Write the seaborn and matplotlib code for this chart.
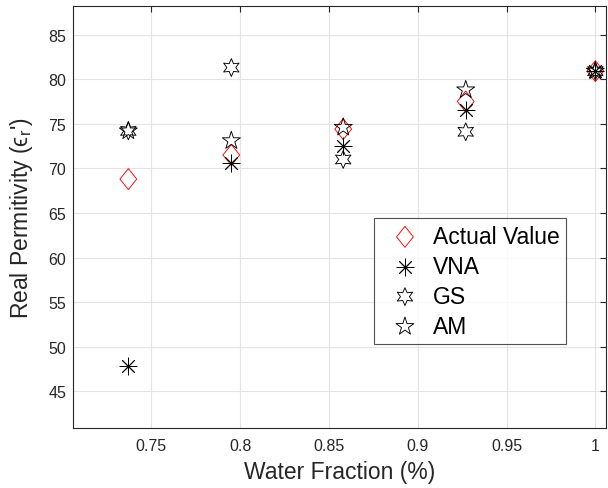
import matplotlib
matplotlib.use("Agg")
import matplotlib.pyplot as plt
import numpy as np
import seaborn as sns

# values
water_fraction = [0.737, 0.795, 0.858, 0.927, 1.0]
actual_value = [68.8, 71.5, 74.4, 77.5, 80.9]
vna = [47.8, 70.6, 72.5, 76.5, 80.9]
gs = [74.2, 81.3, 71.0, 74.1, 80.9]
am = [74.2, 73.1, 74.6, 78.8, 80.9]

x_ticks = [0.75, 0.8, 0.85, 0.9, 0.95, 1.0]
x_tick_labels = ["0.75", "0.8", "0.85", "0.9", "0.95", "1"]
y_ticks = [45, 50, 55, 60, 65, 70, 75, 80, 85]

DIAMOND = [(0, 1), (0.8, 0), (0, -1), (-0.8, 0), (0, 1)]
AXIS_GREY = "#262626"


def _set_style():
    sns.set_theme(style="whitegrid")
    plt.rcParams["font.family"] = ["Liberation Sans", "DejaVu Sans"]
    plt.rcParams["mathtext.default"] = "regular"
    plt.rcParams["grid.color"] = "#e3e3e3"
    plt.rcParams["grid.linewidth"] = 0.8


def draw_plot():
    fig = plt.figure(figsize=(6.08, 4.89), dpi=100)
    ax = fig.add_axes([73.3 / 608, 1 - 429 / 489, 532.7 / 608, 422 / 489])

    series = [
        ("Actual Value", actual_value, DIAMOND, "red", 228, True),
        ("VNA", vna, (8, 2, 0), "black", 149, False),
        ("GS", gs, (6, 1, 0), "black", 164, True),
        ("AM", am, "*", "black", 185, True),
    ]
    for name, vals, marker, color, size, hollow in series:
        if hollow:
            sns.scatterplot(x=water_fraction, y=vals, marker=marker, s=size,
                            color=color, facecolor="none", edgecolor=color,
                            linewidth=0.65, label=name, ax=ax, zorder=3)
        else:
            sns.scatterplot(x=water_fraction, y=vals, marker=marker, s=size,
                            color=color, linewidth=0.65, label=name, ax=ax,
                            zorder=3)
    return fig, ax


def style_axes(ax):
    ax.set_xlim(0.706, 1.006)
    ax.set_ylim(40.9, 88.2)
    ax.set_xticks(x_ticks)
    ax.set_xticklabels(x_tick_labels)
    ax.set_yticks(y_ticks)
    ax.tick_params(direction="in", length=4, width=0.8, colors=AXIS_GREY,
                   labelsize=11.5, top=True, right=True, labelcolor=AXIS_GREY)
    ax.tick_params(axis="x", pad=7)
    ax.tick_params(axis="y", pad=5)
    for spine in ax.spines.values():
        spine.set_visible(True)
        spine.set_color(AXIS_GREY)
        spine.set_linewidth(0.8)
    ax.set_axisbelow(True)

    ax.set_xlabel("Water Fraction (%)", fontsize=16.5, color=AXIS_GREY)
    ax.set_ylabel("Real Permitivity (ϵ$_r$')", fontsize=16.5, color=AXIS_GREY)
    ax.xaxis.set_label_coords(0.5, -0.076)
    ax.yaxis.set_label_coords(-0.072, 0.5)

    leg = ax.legend(loc="upper left", bbox_to_anchor=(0.5645, 0.4976),
                    borderaxespad=0, fontsize=16.5, frameon=True,
                    fancybox=False, borderpad=0.3, handlelength=2.1,
                    handletextpad=0.16, labelspacing=0.3, scatterpoints=1)
    leg.get_frame().set_edgecolor(AXIS_GREY)
    leg.get_frame().set_linewidth(0.8)
    for text in leg.get_texts():
        text.set_color("black")


_set_style()
fig, ax = draw_plot()
style_axes(ax)
fig.savefig("out.png", dpi=100)
